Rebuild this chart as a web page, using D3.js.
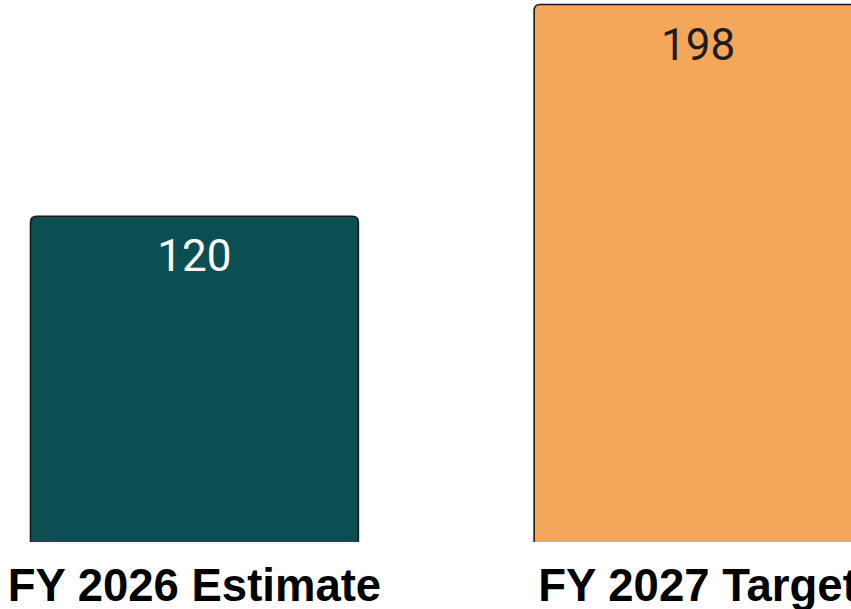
<!DOCTYPE html>
<html>
<head>
<meta charset="utf-8">
<script src="https://cdn.jsdelivr.net/npm/d3@7"></script>
<style>
  html, body { margin: 0; padding: 0; background: #ffffff; }
  svg { display: block; }
</style>
</head>
<body>
<script>
const categories = ["FY 2026 Estimate", "FY 2027 Target"];
const values = [120, 198];
const barColors = ["#0b4f52", "#f4a75a"];
const valueTextColors = ["#ffffff", "#1c1c1c"];

const W = 851, H = 609;
const baseline = 542;

const svg = d3.select("body").append("svg")
  .attr("width", W).attr("height", H);

const x = d3.scaleBand()
  .domain(categories)
  .range([30.5, 862])
  .paddingInner(0.349)
  .paddingOuter(0);

const y = d3.scaleLinear()
  .domain([0, 198])
  .range([baseline, 4.5]);

const r = 6;

// Bar outline: rounded top corners, open at the baseline
function barPath(d, i) {
  const x0 = x(categories[i]);
  const x1 = x0 + x.bandwidth();
  const y0 = y(d);
  const yb = y(0);
  return `M${x0},${yb} L${x0},${y0 + r} Q${x0},${y0} ${x0 + r},${y0} ` +
         `L${x1 - r},${y0} Q${x1},${y0} ${x1},${y0 + r} L${x1},${yb}`;
}

const bars = svg.append("g");

bars.selectAll("path.fill")
  .data(values)
  .join("path")
  .attr("class", "fill")
  .attr("d", (d, i) => barPath(d, i) + " Z")
  .attr("fill", (d, i) => barColors[i])
  .attr("stroke", "none");

bars.selectAll("path.edge")
  .data(values)
  .join("path")
  .attr("class", "edge")
  .attr("d", barPath)
  .attr("fill", "none")
  .attr("stroke", "#1a1a1a")
  .attr("stroke-width", 1.6);

// Value labels inside the bars
svg.append("g").selectAll("text")
  .data(values)
  .join("text")
  .attr("x", (d, i) => x(categories[i]) + x.bandwidth() / 2)
  .attr("y", d => y(d) + 55)
  .attr("text-anchor", "middle")
  .attr("font-family", "Roboto, 'Noto Sans', sans-serif")
  .attr("font-size", 44)
  .attr("fill", (d, i) => valueTextColors[i])
  .text(d => d);

// Category labels under the bars
svg.append("g").selectAll("text")
  .data(categories)
  .join("text")
  .attr("x", d => x(d) + x.bandwidth() / 2)
  .attr("y", 601)
  .attr("text-anchor", "middle")
  .attr("font-family", "'Liberation Sans', Arial, sans-serif")
  .attr("font-weight", "bold")
  .attr("font-size", 45.5)
  .attr("fill", "#000000")
  .text(d => d);
</script>
</body>
</html>
